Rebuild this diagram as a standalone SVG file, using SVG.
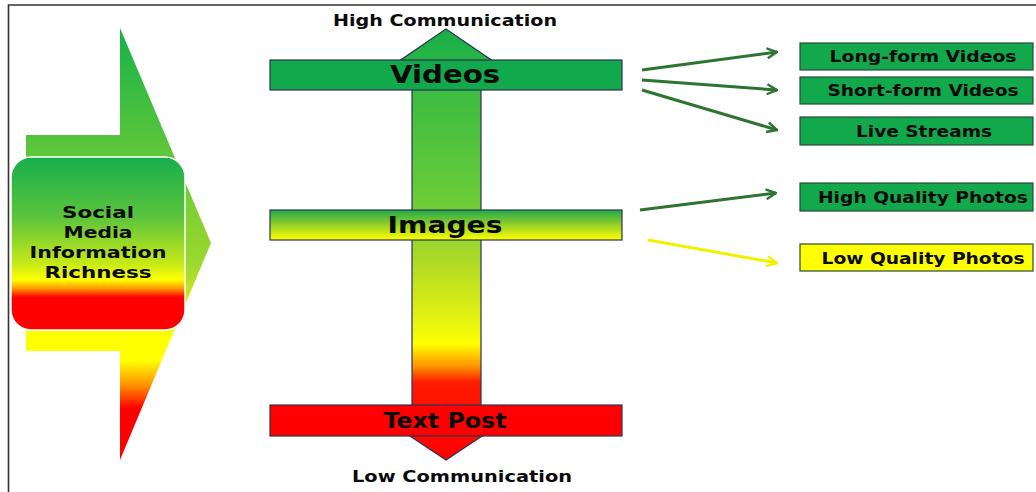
<svg xmlns="http://www.w3.org/2000/svg" width="1036" height="492" viewBox="0 0 1036 492">
  <style>
    .lbl { font-family: "DejaVu Sans", "Liberation Sans", Arial, sans-serif; font-weight: bold; fill: #0a0a0a; text-anchor: middle; }
    .bar { stroke: #2a3550; stroke-width: 1.2; }
    .sub { fill: #12a84c; stroke: #2b4a3a; stroke-width: 1.2; }
    .link { fill: none; stroke: #2e7431; stroke-width: 3; }
    .link-y { fill: none; stroke: #f2f200; stroke-width: 3; }
  </style>
  <defs>
    <linearGradient id="gBigArrow" gradientUnits="userSpaceOnUse" x1="0" y1="28" x2="0" y2="460">
      <stop offset="0" stop-color="#17b04a"/>
      <stop offset="0.25" stop-color="#55c43c"/>
      <stop offset="0.55" stop-color="#9ed82e"/>
      <stop offset="0.71" stop-color="#ffff00"/>
      <stop offset="0.77" stop-color="#ffff00"/>
      <stop offset="0.83" stop-color="#ff8a00"/>
      <stop offset="0.88" stop-color="#ff0000"/>
      <stop offset="1" stop-color="#ff0000"/>
    </linearGradient>
    <linearGradient id="gRich" gradientUnits="userSpaceOnUse" x1="0" y1="157" x2="0" y2="330">
      <stop offset="0" stop-color="#16ae4c"/>
      <stop offset="0.35" stop-color="#5cc43c"/>
      <stop offset="0.62" stop-color="#c8ea18"/>
      <stop offset="0.71" stop-color="#ffff00"/>
      <stop offset="0.76" stop-color="#ff9a00"/>
      <stop offset="0.81" stop-color="#ff0000"/>
      <stop offset="1" stop-color="#ff0000"/>
    </linearGradient>
    <linearGradient id="gAxis" gradientUnits="userSpaceOnUse" x1="0" y1="29" x2="0" y2="460">
      <stop offset="0" stop-color="#17ae4a"/>
      <stop offset="0.15" stop-color="#3cbc40"/>
      <stop offset="0.4" stop-color="#6ccc38"/>
      <stop offset="0.55" stop-color="#b4dc24"/>
      <stop offset="0.68" stop-color="#e6f410"/>
      <stop offset="0.73" stop-color="#ffff00"/>
      <stop offset="0.78" stop-color="#ff9a00"/>
      <stop offset="0.82" stop-color="#ff1a00"/>
      <stop offset="1" stop-color="#ff0000"/>
    </linearGradient>
    <linearGradient id="gImages" x1="0" y1="0" x2="0" y2="1">
      <stop offset="0" stop-color="#1ea84a"/>
      <stop offset="0.45" stop-color="#8ccc2c"/>
      <stop offset="1" stop-color="#ffff00"/>
    </linearGradient>
    <marker id="head" viewBox="0 0 12 12" refX="11" refY="6" markerWidth="12" markerHeight="12" markerUnits="userSpaceOnUse" orient="auto">
      <path d="M1,1 L11,6 L1,11" fill="none" stroke="#2e7431" stroke-width="2.4"/>
    </marker>
    <marker id="headY" viewBox="0 0 12 12" refX="11" refY="6" markerWidth="12" markerHeight="12" markerUnits="userSpaceOnUse" orient="auto">
      <path d="M1,1 L11,6 L1,11" fill="none" stroke="#f2f200" stroke-width="2.4"/>
    </marker>
  </defs>

  <rect width="1036" height="492" fill="#ffffff"/>
  <!-- frame -->
  <path d="M8.5,492 V5 H1036" fill="none" stroke="#333" stroke-width="1.6"/>

  <!-- left block arrow with the richness box -->
  <g id="richness-arrow">
    <path d="M26,135 H120 V28 L211,243 L120,460 V351 H26 Z" fill="url(#gBigArrow)"/>
  </g>
  <g id="richness">
    <rect x="11" y="157" width="174" height="173" rx="20" fill="url(#gRich)" stroke="#ffffff" stroke-width="1.5"/>
    <text class="lbl" font-size="16.5" x="98" y="218" textLength="72" lengthAdjust="spacingAndGlyphs">Social</text>
    <text class="lbl" font-size="16.5" x="98" y="238" textLength="69" lengthAdjust="spacingAndGlyphs">Media</text>
    <text class="lbl" font-size="16.5" x="98" y="258" textLength="137" lengthAdjust="spacingAndGlyphs">Information</text>
    <text class="lbl" font-size="16.5" x="98" y="278" textLength="107" lengthAdjust="spacingAndGlyphs">Richness</text>
  </g>

  <!-- vertical communication axis -->
  <g id="axis">
    <path d="M446,29 L506,70 H481 V420 H506 L446,460 L386,420 H412 V70 H386 Z" fill="url(#gAxis)" stroke="#2a3550" stroke-width="1.2"/>
    <text class="lbl" font-size="15" x="445" y="26" textLength="224" lengthAdjust="spacingAndGlyphs">High Communication</text>
    <text class="lbl" font-size="15" x="462" y="482" textLength="220" lengthAdjust="spacingAndGlyphs">Low Communication</text>
  </g>

  <g id="videos">
    <rect class="bar" x="270" y="60" width="352" height="30" fill="#12a84c"/>
    <text class="lbl" font-size="24" x="445" y="83" textLength="110" lengthAdjust="spacingAndGlyphs">Videos</text>
  </g>
  <g id="images">
    <rect class="bar" x="270" y="210" width="352" height="30" fill="url(#gImages)"/>
    <text class="lbl" font-size="23" x="445" y="233" textLength="115" lengthAdjust="spacingAndGlyphs">Images</text>
  </g>
  <g id="text-post">
    <rect class="bar" x="270" y="405" width="352" height="31" fill="#ff0000"/>
    <text class="lbl" font-size="21" x="445" y="428" textLength="123" lengthAdjust="spacingAndGlyphs">Text Post</text>
  </g>

  <!-- connectors -->
  <g id="connectors">
    <line class="link" x1="642" y1="70" x2="777" y2="52" marker-end="url(#head)"/>
    <line class="link" x1="642" y1="80" x2="777" y2="90" marker-end="url(#head)"/>
    <line class="link" x1="642" y1="90" x2="777" y2="130" marker-end="url(#head)"/>
    <line class="link" x1="640" y1="210" x2="776" y2="193" marker-end="url(#head)"/>
    <line class="link-y" x1="648" y1="240" x2="777" y2="263" marker-end="url(#headY)"/>
  </g>

  <!-- content types -->
  <g id="long-form">
    <rect class="sub" x="800" y="43" width="233" height="27"/>
    <text class="lbl" font-size="15.5" x="923" y="62" textLength="187" lengthAdjust="spacingAndGlyphs">Long-form Videos</text>
  </g>
  <g id="short-form">
    <rect class="sub" x="800" y="77" width="233" height="27"/>
    <text class="lbl" font-size="15.5" x="923" y="96" textLength="191" lengthAdjust="spacingAndGlyphs">Short-form Videos</text>
  </g>
  <g id="live-streams">
    <rect class="sub" x="800" y="117" width="233" height="28"/>
    <text class="lbl" font-size="15.5" x="924" y="137" textLength="136" lengthAdjust="spacingAndGlyphs">Live Streams</text>
  </g>
  <g id="high-quality">
    <rect class="sub" x="800" y="183" width="233" height="28"/>
    <text class="lbl" font-size="15.5" x="923" y="203" textLength="210" lengthAdjust="spacingAndGlyphs">High Quality Photos</text>
  </g>
  <g id="low-quality">
    <rect x="800" y="244" width="233" height="27" fill="#ffff00" stroke="#2b4a3a" stroke-width="1.2"/>
    <text class="lbl" font-size="15.5" x="923" y="264" textLength="203" lengthAdjust="spacingAndGlyphs">Low Quality Photos</text>
  </g>
</svg>
